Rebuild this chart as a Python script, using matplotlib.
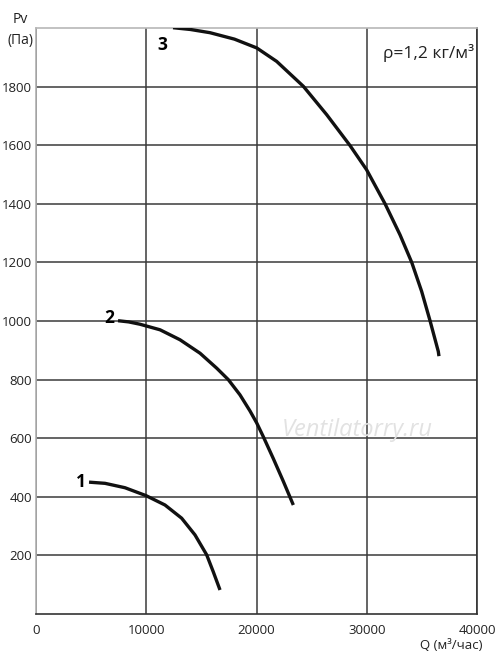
import numpy as np
import matplotlib.pyplot as plt

# curve points (Q in m3/h, Pv in Pa)
q1 = [4810, 6260, 8070, 9980, 11700, 13210, 14420, 15480, 16080, 16690]
p1 = [450, 446, 431, 404, 372, 327, 270, 202, 144, 82]

q2 = [7440, 8400, 9430, 11250, 13060, 14880, 16390, 17440, 18500, 19410,
      20020, 20620, 21530, 22430, 23340]
p2 = [1001, 997, 989, 970, 936, 890, 839, 800, 748, 693,
      652, 605, 530, 453, 372]

q3 = [12430, 14000, 15780, 18000, 20020, 21830, 24250, 26370, 28480, 29990,
      31660, 33020, 34080, 34980, 35740, 36490, 36550]
p3 = [2001, 1995, 1984, 1962, 1932, 1886, 1801, 1704, 1599, 1516,
      1400, 1294, 1200, 1101, 1001, 896, 880]

xticks = [0, 10000, 20000, 30000, 40000]
yticks = [200, 400, 600, 800, 1000, 1200, 1400, 1600, 1800]

plt.rcParams['font.family'] = ['Open Sans', 'DejaVu Sans']

fig = plt.figure(figsize=(5, 6.62), dpi=100)
ax = fig.add_axes([0.072, 0.0725, 0.882, 0.8852])

ax.set_xlim(0, 40000)
ax.set_ylim(0, 2000)
ax.set_xticks(xticks)
ax.set_yticks(yticks)
ax.set_xticklabels([str(v) for v in xticks])
ax.set_yticklabels([str(v) for v in yticks])
ax.tick_params(length=0, labelsize=9.5, colors='#222222', pad=3)
ax.tick_params(axis='x', pad=7)

ax.grid(True, color='#3a3a3a', linewidth=1.1)
ax.set_axisbelow(True)
ax.spines['left'].set_color('#b0b0b0')
ax.spines['top'].set_color('#b8b8b8')
ax.spines['right'].set_color('#333333')
ax.spines['bottom'].set_color('#333333')
for s in ax.spines.values():
    s.set_linewidth(1.2)

for q, p in [(q1, p1), (q2, p2), (q3, p3)]:
    ax.plot(q, p, color='#111111', linewidth=2.4, solid_capstyle='butt',
            solid_joinstyle='round', zorder=3)

ax.text(4080, 451, '1', fontsize=12.5, fontweight='bold', ha='center', va='center')
ax.text(6620, 1011, '2', fontsize=12.5, fontweight='bold', ha='center', va='center')
ax.text(11500, 1943, '3', fontsize=12.5, fontweight='bold', ha='center', va='center')

ax.text(39700, 1915, 'ρ=1,2 кг/м³', fontsize=12.5, ha='right', va='center', color='#222222')
ax.text(29100, 628, 'Ventilatorry.ru', fontsize=17, style='italic', color='#e2e2e2',
        ha='center', va='center', zorder=1)

fig.text(0.04, 0.955, 'Pv\n(Па)', fontsize=10, ha='center', va='center',
         linespacing=1.5, color='#222222')
fig.text(0.902, 0.025, 'Q (м³/час)', fontsize=9.5, ha='center', va='center', color='#222222')

fig.savefig('out.png', dpi=100)
